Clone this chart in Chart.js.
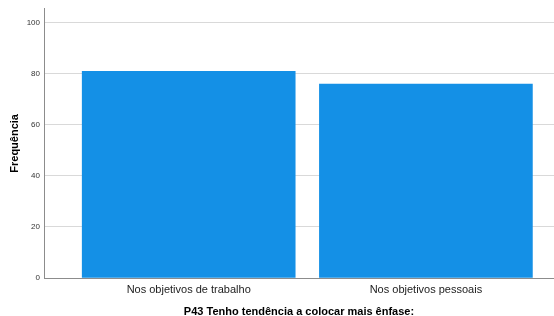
<!DOCTYPE html>
<html>
<head>
<meta charset="utf-8">
<script src="https://cdn.jsdelivr.net/npm/chart.js@4"></script>
<style>
  html, body { margin: 0; padding: 0; background: #fff; }
  #wrap { width: 554px; height: 316px; position: relative; }
</style>
</head>
<body>
<div id="wrap"><canvas id="chart"></canvas></div>
<script>
// Data
const categories = ["Nos objetivos de trabalho", "Nos objetivos pessoais"];
const frequencies = [81, 76];
const yTicks = [0, 20, 40, 60, 80, 100];

const xTitle = "P43 Tenho tendência a colocar mais ênfase:";
const yTitle = "Frequência";

const BAR_COLOR = "#1490e6";
const AXIS_COLOR = "#8c8c8c";
const GRID_COLOR = "#d9d9d9";
const FONT = "'Liberation Sans', Arial, sans-serif";

// categories placed on a numeric axis (1, 2, ...) so spacing can match the original
const points = categories.map((c, i) => ({ x: i + 1, y: frequencies[i] }));

new Chart(document.getElementById("chart"), {
  type: "bar",
  data: {
    datasets: [{
      data: points,
      backgroundColor: BAR_COLOR,
      borderWidth: 0,
      barThickness: 213,
    }],
  },
  options: {
    responsive: true,
    maintainAspectRatio: false,
    animation: false,
    layout: { padding: { top: 8, right: 0, left: 0, bottom: 0 } },
    plugins: {
      legend: { display: false },
      tooltip: { enabled: false },
    },
    scales: {
      x: {
        type: "linear",
        offset: false,
        min: 0.39,
        max: 2.54,
        afterDataLimits: s => { s.min = 0.39; s.max = 2.54; },
        afterBuildTicks: s => { s.ticks = categories.map((c, i) => ({ value: i + 1 })); },
        afterFit: s => { s.height = 38; },
        grid: { display: false, drawTicks: false, offset: false },
        border: { display: true, color: AXIS_COLOR, width: 1 },
        ticks: {
          callback: v => categories[v - 1] || "",
          color: "#222",
          font: { family: FONT, size: 11 },
          padding: 5,
          maxRotation: 0,
          autoSkip: false,
        },
        title: {
          display: true,
          text: xTitle,
          color: "#000",
          font: { family: FONT, size: 11, weight: "bold" },
          padding: { top: 9, bottom: -3 },
        },
      },
      y: {
        min: 0,
        max: 105.5,
        afterBuildTicks: s => { s.ticks = yTicks.map(v => ({ value: v })); },
        afterFit: s => { s.width = 44; },
        grid: {
          color: ctx => (ctx.tick && ctx.tick.value === 0 ? "rgba(0,0,0,0)" : GRID_COLOR),
          drawTicks: false,
        },
        border: { display: true, color: AXIS_COLOR, width: 1 },
        ticks: {
          color: "#333",
          font: { family: FONT, size: 8 },
          padding: 4,
        },
        title: {
          display: true,
          text: yTitle,
          color: "#000",
          font: { family: FONT, size: 11, weight: "bold" },
          padding: { top: 8, bottom: 0 },
        },
      },
    },
  },
});
</script>
</body>
</html>
